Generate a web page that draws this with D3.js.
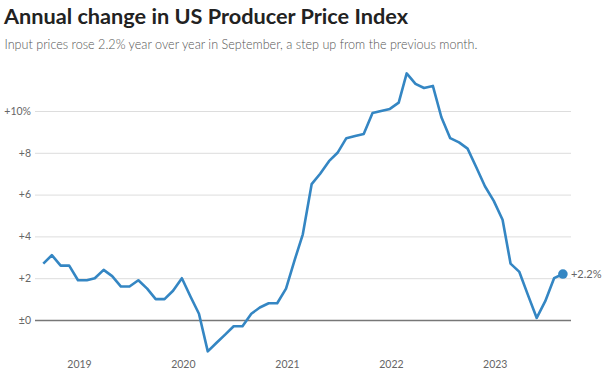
<!DOCTYPE html>
<html>
<head>
<meta charset="utf-8">
<script src="https://cdn.jsdelivr.net/npm/d3@7"></script>
<style>
  html, body { margin: 0; padding: 0; background: #fff; }
  svg { display: block; font-family: "Source Sans Pro", "Lato", "Noto Sans", sans-serif; }
</style>
</head>
<body>
<svg id="chart" width="609" height="377"></svg>
<script>
const titleText = "Annual change in US Producer Price Index";
const subtitleText = "Input prices rose 2.2% year over year in September, a step up from the previous month.";

const months = [
  "2018-09","2018-10","2018-11","2018-12",
  "2019-01","2019-02","2019-03","2019-04","2019-05","2019-06","2019-07","2019-08","2019-09","2019-10","2019-11","2019-12",
  "2020-01","2020-02","2020-03","2020-04","2020-05","2020-06","2020-07","2020-08","2020-09","2020-10","2020-11","2020-12",
  "2021-01","2021-02","2021-03","2021-04","2021-05","2021-06","2021-07","2021-08","2021-09","2021-10","2021-11","2021-12",
  "2022-01","2022-02","2022-03","2022-04","2022-05","2022-06","2022-07","2022-08","2022-09","2022-10","2022-11","2022-12",
  "2023-01","2023-02","2023-03","2023-04","2023-05","2023-06","2023-07","2023-08","2023-09"
];
const values = [
  2.7, 3.1, 2.6, 2.6,
  1.9, 1.9, 2.0, 2.4, 2.1, 1.6, 1.6, 1.9, 1.5, 1.0, 1.0, 1.4,
  2.0, 1.1, 0.3, -1.5, -1.1, -0.7, -0.3, -0.3, 0.3, 0.6, 0.8, 0.8,
  1.5, 2.9, 4.1, 6.5, 7.0, 7.6, 8.0, 8.7, 8.8, 8.9, 9.9, 10.0,
  10.1, 10.4, 11.8, 11.3, 11.1, 11.2, 9.7, 8.7, 8.5, 8.2, 7.3, 6.4,
  5.7, 4.8, 2.7, 2.3, 1.2, 0.1, 0.9, 2.0, 2.2
];
const yTicks = [0, 2, 4, 6, 8, 10];
const yTickLabels = ["±0", "+2", "+4", "+6", "+8", "+10%"];
const xTickYears = ["2019", "2020", "2021", "2022", "2023"];
const endLabel = "+2.2%";

const parse = d3.timeParse("%Y-%m");
const data = months.map((m, i) => ({ date: parse(m), value: values[i] }));

const svg = d3.select("#chart");

const x = d3.scaleTime()
  .domain([parse("2018-09"), parse("2023-09")])
  .range([43.3, 562.9]);
const y = d3.scaleLinear().domain([0, 10]).range([320, 111]);

const gridLeft = 35, gridRight = 571;

// Title & subtitle
svg.append("text")
  .attr("x", 4).attr("y", 24)
  .attr("font-size", 21).attr("font-weight", 700).attr("fill", "#222")
  .attr("textLength", 404).attr("lengthAdjust", "spacingAndGlyphs")
  .text(titleText);
svg.append("text")
  .attr("x", 4.5).attr("y", 49)
  .attr("font-size", 13).attr("font-weight", 300).attr("fill", "#555")
  .attr("textLength", 473).attr("lengthAdjust", "spacingAndGlyphs")
  .text(subtitleText);

// Y axis gridlines and labels
const yAxis = d3.axisLeft(y)
  .tickValues(yTicks)
  .tickSize(-(gridRight - gridLeft))
  .tickPadding(5)
  .tickFormat((d, i) => yTickLabels[i]);
const gy = svg.append("g")
  .attr("transform", `translate(${gridLeft},0)`)
  .call(yAxis);
gy.select(".domain").remove();
gy.selectAll(".tick line")
  .attr("stroke", d => d === 0 ? "#777" : "#ddd")
  .attr("stroke-width", d => d === 0 ? 1.5 : 1);
gy.selectAll(".tick text")
  .attr("fill", "#666").attr("font-size", 10.5)
  .attr("font-family", "'Source Sans Pro', Lato, 'Noto Sans', sans-serif")
  .attr("x", -4);

// X axis labels
const xAxis = d3.axisBottom(x)
  .tickValues(xTickYears.map(yr => d3.timeParse("%Y")(yr)))
  .tickSize(0)
  .tickFormat(d3.timeFormat("%Y"));
const gx = svg.append("g").attr("transform", "translate(1,358)").call(xAxis);
gx.select(".domain").remove();
gx.selectAll(".tick text")
  .attr("fill", "#666").attr("font-size", 10.5)
  .attr("font-family", "'Source Sans Pro', Lato, 'Noto Sans', sans-serif");

// Line
const line = d3.line().x(d => x(d.date)).y(d => y(d.value));
svg.append("path")
  .datum(data)
  .attr("fill", "none")
  .attr("stroke", "#3486c3")
  .attr("stroke-width", 2.6)
  .attr("stroke-linejoin", "round")
  .attr("d", line);

// End dot and label
const last = data[data.length - 1];
svg.append("circle")
  .attr("cx", x(last.date)).attr("cy", y(last.value))
  .attr("r", 4.8).attr("fill", "#3486c3");
svg.append("text")
  .attr("x", x(last.date) + 8).attr("y", y(last.value) + 4)
  .attr("font-size", 11).attr("fill", "#666")
  .text(endLabel);
</script>
</body>
</html>
